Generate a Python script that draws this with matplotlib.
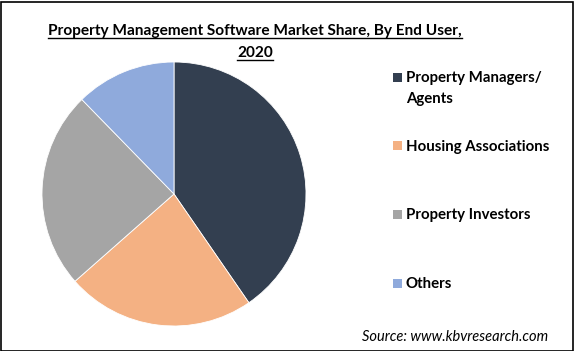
import matplotlib.pyplot as plt
from matplotlib.patches import Rectangle
from matplotlib.lines import Line2D

plt.rcParams['font.family'] = ['Lato', 'DejaVu Sans']

# data
segments = ["Property Managers/\nAgents", "Housing Associations", "Property Investors", "Others"]
shares = [40.4, 23.1, 24.2, 12.3]
colors = ["#333F50", "#F4B183", "#A5A5A5", "#8FAADC"]

W, H = 574, 351
fig = plt.figure(figsize=(W / 100, H / 100), dpi=100)

def fx(px):
    return px / W

def fy(py):
    return 1 - py / H

# pie
cx, cy, r = 174, 194, 132
ax = fig.add_axes([fx(cx - r), fy(cy + r), 2 * r / W, 2 * r / H])
ax.pie(shares, colors=colors, startangle=90, counterclock=False,
       wedgeprops=dict(linewidth=0.6, edgecolor="white"))
ax.set_aspect("equal")
ax.set_xlim(-1, 1)
ax.set_ylim(-1, 1)
ax.axis("off")

# title with underline
renderer = fig.canvas.get_renderer()
title_lines = ["Property Management Software Market Share, By End User,", "2020"]
for line, base in zip(title_lines, [35, 57]):
    t = fig.text(fx(255), fy(base), line, ha="center", va="baseline",
                 fontsize=11.1, fontweight="bold", color="black")
    bb = t.get_window_extent(renderer)
    ul = base + 2.5
    fig.add_artist(Line2D([bb.x0 / W, bb.x1 / W], [fy(ul), fy(ul)],
                          color="black", linewidth=1.0))

# legend
legend_y = [77, 146, 214, 283]
for label, col, y in zip(segments, colors, legend_y):
    fig.add_artist(Rectangle((fx(393), fy(y + 4.5)), 9 / W, 9 / H,
                             facecolor=col, edgecolor="none",
                             transform=fig.transFigure))
    for i, part in enumerate(label.split("\n")):
        fig.text(fx(406), fy(y + 5 + 21 * i), part, ha="left", va="baseline",
                 fontsize=10.8, fontweight="bold", color="black")

# source
fig.text(fx(362), fy(341), "Source: www.kbvresearch.com", ha="left",
         va="baseline", fontsize=10.5, style="italic", color="black")

# border
fig.add_artist(Rectangle((0.5 / W, 0.5 / H), 1 - 2 / W, 1 - 2 / H,
                         fill=False, edgecolor="black", linewidth=1.2,
                         transform=fig.transFigure))

fig.savefig("out.png", dpi=100)
